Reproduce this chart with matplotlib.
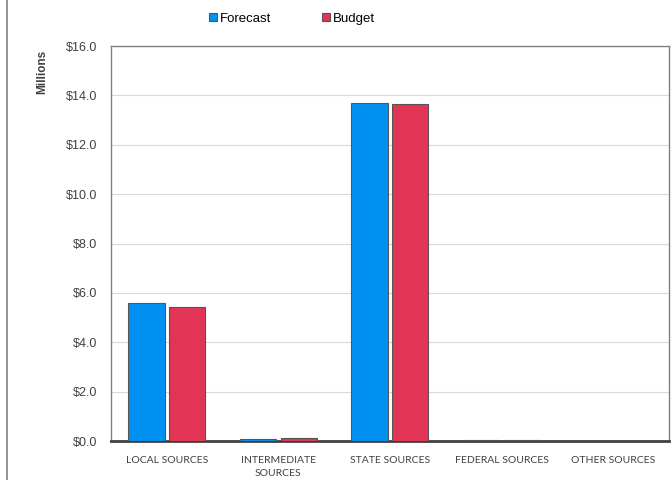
import numpy as np
import matplotlib.pyplot as plt
from matplotlib.lines import Line2D
from matplotlib.ticker import FuncFormatter

# ==========================
# REVENUE DATA (millions)
# ==========================

categories = ["LOCAL SOURCES", "INTERMEDIATE\nSOURCES", "STATE SOURCES",
              "FEDERAL SOURCES", "OTHER SOURCES"]
forecast = [5.60, 0.07, 13.70, 0.03, 0.0]
budget = [5.43, 0.11, 13.66, 0.03, 0.0]

blue = "#0091F2"
red = "#E23556"

# ==========================
# CHART
# ==========================

plt.rcParams["font.family"] = ["Liberation Sans", "DejaVu Sans"]

fig = plt.figure(figsize=(6.71, 4.8), dpi=100)
ax = fig.add_axes([0.1654, 0.081, 0.8316, 0.823])

x = np.arange(len(categories))
w = 0.325
ax.bar(x - w / 2 - 0.02, forecast, w, color=blue, edgecolor="#555555",
       linewidth=0.8, label="Forecast", zorder=3)
ax.bar(x + w / 2 + 0.02, budget, w, color=red, edgecolor="#555555",
       linewidth=0.8, label="Budget", zorder=3)

ax.set_xlim(-0.5, len(categories) - 0.5)
ax.set_ylim(0, 16)
ax.set_yticks(np.arange(0, 17, 2))
ax.yaxis.set_major_formatter(FuncFormatter(lambda v, p: f"${v:.1f}"))
ax.tick_params(axis="y", length=0, labelsize=9, labelcolor="#404040", pad=10)
ax.set_xticks(x)
ax.set_xticklabels(categories, fontsize=7.5, color="#404040", family="Lato",
                   linespacing=1.5)
ax.tick_params(axis="x", length=0, pad=11)

ax.grid(axis="y", color="#D9D9D9", linewidth=0.8, zorder=0)
ax.set_axisbelow(True)

for side in ["left", "right", "top"]:
    ax.spines[side].set_color("#808080")
    ax.spines[side].set_linewidth(1.0)
ax.spines["bottom"].set_color("#404040")
ax.spines["bottom"].set_linewidth(2.0)

fig.text(0.0626, 0.896, "Millions", rotation=90, fontsize=8.5,
         fontweight="bold", color="#404040", ha="center", va="top")

fig.legend(loc="upper center", bbox_to_anchor=(0.435, 0.998), ncol=2,
           frameon=False, fontsize=9.5, handlelength=0.6, handleheight=0.6,
           handletextpad=0.2, columnspacing=3.9)

# left border of the chart area
fig.add_artist(Line2D([0.0105, 0.0105], [0, 1], color="#808080", linewidth=1.2,
                      transform=fig.transFigure))

plt.savefig("out.png", dpi=100)
